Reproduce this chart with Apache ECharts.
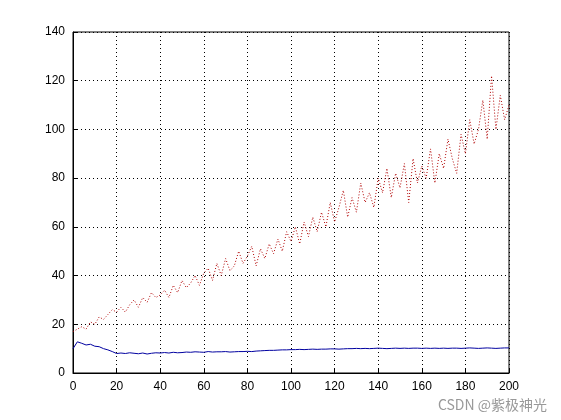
<!DOCTYPE html>
<html><head><meta charset="utf-8">
<script src="https://cdn.jsdelivr.net/npm/echarts@6/dist/echarts.min.js"></script>
<style>body{margin:0;background:#fff}#c{width:561px;height:420px}</style>
</head><body><div id="c"></div>
<script>
// x positions, step 2
var xs = [];
for (var i = 0; i <= 200; i += 2) xs.push(i);
var redVals = [17,18,19,18,21,20,23,22,24,26,25,
  27,25,28,30,27,31,29,33,31,32,
  34,31,36,33,38,35,37,40,36,41,
  43,38,45,40,47,42,44,50,45,48,
  52,44,51,47,53,49,55,50,58,54,
  60,53,62,56,64,58,66,60,70,62,
  68,75,64,72,66,78,70,74,68,80,
  74,84,72,82,76,86,70,88,78,85,
  80,92,78,90,84,96,88,82,98,90,
  104,94,100,112,96,122,100,114,104,110];
var blueVals = [10,12.8,12.2,11.5,11.8,11,10.8,10,9.5,8.8,8,
  8.2,8,8.3,8.1,7.9,8.2,7.8,8.1,8.3,8.2,
  8.4,8.2,8.5,8.3,8.4,8.6,8.5,8.7,8.6,8.5,
  8.8,8.6,8.7,8.7,8.8,8.6,8.7,8.8,8.8,8.9,
  8.8,9,9.1,9.2,9.3,9.3,9.4,9.5,9.5,9.6,
  9.6,9.7,9.6,9.7,9.8,9.7,9.8,9.8,9.9,9.9,
  9.8,9.9,10,10,10.1,10,10.1,10,10.1,10.2,
  10.1,10,10.1,10.2,10.1,10.2,10.1,10.2,10.2,10.1,
  10.2,10.1,10.2,10.1,10.2,10.1,10.2,10.2,10.1,10.2,
  10.3,10.2,10.1,10.2,10.3,10.2,10.1,10.2,10.3,10.3];

function pairs(v){ var out=[]; for (var i=0;i<v.length;i++) out.push([xs[i],v[i]]); return out; }

var myChart = echarts.init(document.getElementById('c'));
var lbl = {color:'#000', fontFamily:'Arial', fontSize:12};
var option = {
  animation:false,
  grid:{left:73,right:52,top:32,bottom:47,show:true,borderColor:'#000',borderWidth:1},
  xAxis:{type:'value',min:0,max:200,interval:20,
    axisLine:{lineStyle:{color:'#000'}},
    axisTick:{inside:true,length:5,lineStyle:{color:'#000'}},
    axisLabel:lbl,
    splitLine:{show:true,lineStyle:{color:'#000',type:[1,3]}}},
  yAxis:{type:'value',min:0,max:140,interval:20,
    axisLine:{show:true,lineStyle:{color:'#000'}},
    axisTick:{show:true,inside:true,length:5,lineStyle:{color:'#000'}},
    axisLabel:lbl,
    splitLine:{show:true,lineStyle:{color:'#000',type:[1,3]}}},
  series:[
    {type:'line',data:pairs(redVals),showSymbol:false,
      lineStyle:{color:'#b00000',width:1,type:[1,2]}},
    {type:'line',data:pairs(blueVals),showSymbol:false,
      lineStyle:{color:'#0000a0',width:1}}
  ],
  graphic:[{type:'text',right:14,bottom:8,
    style:{text:'CSDN @紫极神光',fill:'#999',fontSize:14,fontFamily:'Noto Sans CJK SC'}}]
};
myChart.setOption(option);
</script></body></html>
